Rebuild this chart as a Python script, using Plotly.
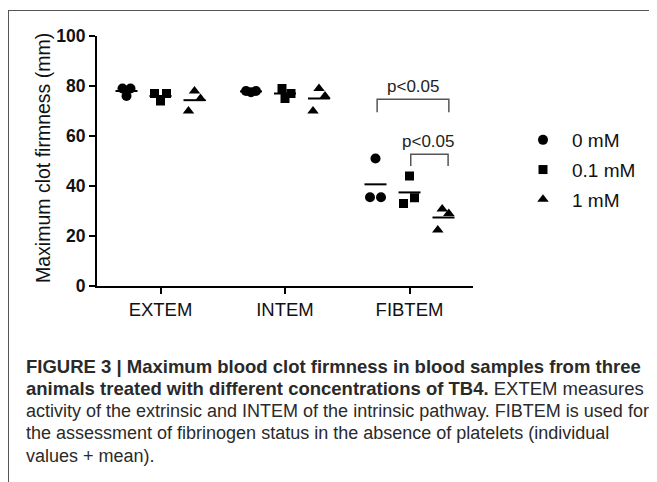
import numpy as np
import plotly.graph_objects as go

# ---- data ----
categories = ["EXTEM", "INTEM", "FIBTEM"]
groups = ["0 mM", "0.1 mM", "1 mM"]
values_0mM = [[79, 79, 76], [78, 78, 77.5], [51, 35.5, 35.5]]
values_01mM = [[77, 77, 74], [79, 77, 75], [44, 33, 35.3]]
values_1mM = [[78, 75, 70], [79, 76, 70], [30.8, 29, 22.4]]
series = [values_0mM, values_01mM, values_1mM]
y_ticks = [0, 20, 40, 60, 80, 100]
sig_label = "p<0.05"

# ---- styling / layout helpers ----
W, H = 657, 482
OFF = 8  # page body margin: screen px = figure px + 8
L, R, T, B = 97 - OFF, 473 - OFF, 36 - OFF, 286 - OFF   # plot-area bounds (figure px)
x_range = [-0.51, 2.51]
unit = (R - L) / (x_range[1] - x_range[0])  # px per category
group_off_px = [-34, 0, 34]
# horizontal scatter spread (px) of overlapping points, per group/category
spread_px = [
    [[-4, 4, 0], [-5, 5, 0], [0, -5.5, 5.5]],
    [[-6, 6, 0], [-3, 6, 0], [0, -6, 5]],
    [[0, 6, -6], [0, 6, -6], [-1.3, 5.3, -5.7]],
]
symbols = ["circle", "square", "triangle-up"]
sizes = [10, 9, 10]
FONT = "Liberation Sans"

def px_x(sx):  # screen px -> paper
    return (sx - OFF - L) / (R - L)

def px_y(sy):
    return (B - (sy - OFF)) / (B - T)

fig = go.Figure()
shapes = []
for g, vals in enumerate(series):
    xs, ys = [], []
    for c, v in enumerate(vals):
        for k, val in enumerate(v):
            xs.append(c + (group_off_px[g] + spread_px[g][c][k]) / unit)
            ys.append(val)
        m = float(np.mean(v))
        cx = c + group_off_px[g] / unit
        half = 11 / unit
        shapes.append(dict(type="line", xref="x", yref="y", x0=cx - half, x1=cx + half,
                           y0=m, y1=m, line=dict(color="black", width=2)))
    fig.add_trace(go.Scatter(
        x=xs, y=ys, mode="markers", name=groups[g], legendgroup=groups[g],
        marker=dict(symbol=symbols[g], size=sizes[g], color="black", line=dict(width=0)),
    ))

# significance brackets
def bracket(x0, x1, ytop, yend):
    return dict(type="path", xref="x", yref="y",
                path=f"M {x0},{yend} L {x0},{ytop} L {x1},{ytop} L {x1},{yend}",
                line=dict(color="#555555", width=1.5))

shapes.append(bracket(1.74, 2.316, 74.7, 69.5))
shapes.append(bracket(2.01, 2.31, 52.7, 48.0))

# frame lines
shapes.append(dict(type="line", xref="paper", yref="paper", x0=px_x(8.5), x1=px_x(8.5),
                   y0=px_y(10), y1=px_y(500), line=dict(color="#555555", width=1)))
shapes.append(dict(type="line", xref="paper", yref="paper", x0=px_x(8.5), x1=px_x(700),
                   y0=px_y(10.5), y1=px_y(10.5), line=dict(color="#555555", width=1)))

annotations = [
    dict(x=2.03, y=79.7, xref="x", yref="y", text=sig_label, showarrow=False,
         font=dict(size=17, color="#222222", family=FONT)),
    dict(x=2.145, y=57.7, xref="x", yref="y", text=sig_label, showarrow=False,
         font=dict(size=17, color="#222222", family=FONT)),
    dict(x=px_x(43), y=px_y(158), xref="paper", yref="paper", text="Maximum clot firmness (mm)",
         xanchor="center", yanchor="middle",
         textangle=-90, showarrow=False, font=dict(size=19.5, color="#111111", family=FONT)),
]

caption = [
    ("<b>FIGURE 3 | Maximum blood clot firmness in blood samples from three</b>", 18.5),
    ("<b>animals treated with different concentrations of TB4.</b> EXTEM measures", 18.5),
    ("activity of the extrinsic and INTEM of the intrinsic pathway. FIBTEM is used for", 18),
    ("the assessment of fibrinogen status in the absence of platelets (individual", 18),
    ("values + mean).", 18),
]
for i, (line, fs) in enumerate(caption):
    annotations.append(dict(
        x=px_x(24), y=px_y(366 + 22.5 * i), xref="paper", yref="paper",
        xanchor="left", yanchor="middle", text=line, showarrow=False, align="left",
        font=dict(size=fs, color="#2a2a2a", family=FONT)))

fig.update_layout(
    width=W, height=H,
    margin=dict(l=L, r=W - R, t=T, b=H - B, pad=0),
    paper_bgcolor="white", plot_bgcolor="white",
    font=dict(family=FONT, color="black"),
    showlegend=True,
    legend=dict(x=px_x(514), y=px_y(121), xanchor="left", yanchor="top",
                font=dict(size=19, family=FONT, color="#111111"),
                bgcolor="rgba(0,0,0,0)", tracegroupgap=2, itemwidth=48),
    shapes=shapes, annotations=annotations,
    xaxis=dict(range=x_range, tickmode="array", tickvals=[0, 1, 2], ticktext=categories,
               showgrid=False, zeroline=False, showline=True, linecolor="black", linewidth=2,
               ticks="outside", ticklen=6, tickwidth=2, tickcolor="black",
               tickfont=dict(size=18.5, family=FONT, color="#111111")),
    yaxis=dict(range=[0, 100], tickmode="array", tickvals=y_ticks,
               ticktext=[f"<b>{v}</b>" for v in y_ticks],
               showgrid=False, zeroline=False, showline=True, linecolor="black", linewidth=2,
               ticks="outside", ticklen=6, tickwidth=2, tickcolor="black",
               tickfont=dict(size=17.5, family=FONT, color="#111111")),
)

fig.write_html("out.html")
